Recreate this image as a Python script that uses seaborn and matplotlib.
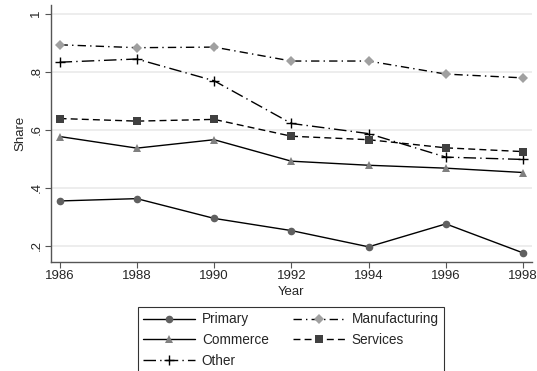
import numpy as np
import pandas as pd
import matplotlib
matplotlib.use("Agg")
import matplotlib.pyplot as plt
import seaborn as sns

years = [1986, 1988, 1990, 1992, 1994, 1996, 1998]
primary = [0.355, 0.363, 0.295, 0.253, 0.197, 0.276, 0.176]
commerce = [0.577, 0.537, 0.566, 0.492, 0.478, 0.468, 0.453]
other = [0.833, 0.844, 0.769, 0.622, 0.587, 0.506, 0.498]
manufacturing = [0.893, 0.883, 0.885, 0.837, 0.837, 0.792, 0.779]
services = [0.639, 0.630, 0.636, 0.578, 0.566, 0.538, 0.525]

ytick_vals = [0.2, 0.4, 0.6, 0.8, 1.0]
ytick_labels = [".2", ".4", ".6", ".8", "1"]

df = pd.DataFrame({"Year": years, "Primary": primary, "Commerce": commerce,
                   "Other": other, "Manufacturing": manufacturing,
                   "Services": services})

sns.set_style("white")
plt.rcParams["font.family"] = ["Liberation Sans", "DejaVu Sans"]

fig = plt.figure(figsize=(5.37, 3.71), dpi=100)
ax = fig.add_axes([0.0944, 0.294, 0.8963, 0.6925])

# name, marker, face colour, dashes, marker size
styles = [
    ("Primary", "o", "#606060", "-", 5.5),
    ("Commerce", "^", "#808080", "-", 6),
    ("Other", "+", "black", (0, (9, 3, 1, 3)), 7),
    ("Manufacturing", "D", "#a0a0a0", (0, (6, 3, 1, 3)), 5.5),
    ("Services", "s", "#404040", (0, (5, 3)), 5.5),
]

for name, mk, fc, ls, ms in styles:
    sns.lineplot(data=df, x="Year", y=name, ax=ax, color="black", lw=1.0,
                 linestyle=ls, marker=mk, markersize=ms, markerfacecolor=fc,
                 markeredgecolor=fc, markeredgewidth=1.0 if mk == "+" else 0,
                 label=name, legend=False)

ax.set_xlim(1985.77, 1998.23)
ax.set_ylim(0.145, 1.03)
ax.set_xticks(years)
ax.set_yticks(ytick_vals)
ax.set_yticklabels(ytick_labels, rotation=90, va="center")
ax.tick_params(axis="both", labelsize=9.5, length=4, width=0.8,
               color="#555555", direction="out", left=True, bottom=True, pad=2)
ax.grid(axis="y", color="#eaeaea", lw=1.2)
ax.grid(axis="x", visible=False)
for s in ["top", "right"]:
    ax.spines[s].set_visible(False)
for s in ["left", "bottom"]:
    ax.spines[s].set_color("#555555")
    ax.spines[s].set_linewidth(1.0)
ax.set_xlabel("Year", fontsize=9.5, labelpad=3)
ax.set_ylabel("Share", fontsize=9.5, labelpad=3)

handles, labels = ax.get_legend_handles_labels()
leg = fig.legend(handles, labels, ncol=2, loc="upper center",
                 bbox_to_anchor=(0.542, 0.1725), fontsize=9.8, frameon=True,
                 fancybox=False, edgecolor="black", handlelength=3.8,
                 handletextpad=0.5, borderaxespad=0,
                 columnspacing=1.8, labelspacing=0.5, borderpad=0.4)
leg.get_frame().set_linewidth(0.8)

fig.savefig("out.png", dpi=100)
